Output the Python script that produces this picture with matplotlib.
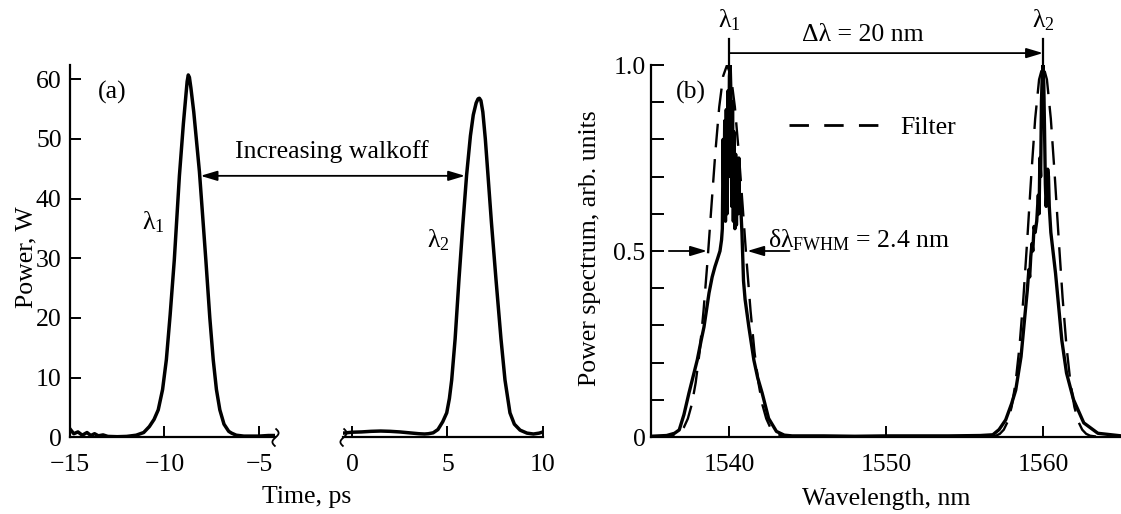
import numpy as np
import matplotlib
matplotlib.use('Agg')
import matplotlib.pyplot as plt
from matplotlib.lines import Line2D
from matplotlib.path import Path
from matplotlib.ticker import MultipleLocator

plt.rcParams['font.family'] = ['Liberation Serif', 'DejaVu Serif']
plt.rcParams['mathtext.fontset'] = 'custom'
plt.rcParams['mathtext.rm'] = 'Liberation Serif'
plt.rcParams['mathtext.it'] = 'Liberation Serif:italic'
plt.rcParams['font.size'] = 18.5

# ---------------- data ----------------
# (a) pulse at lambda1 (time, ps / power, W)
t_pulse1 = [-15.0, -14.8, -14.58, -14.35, -14.1, -13.9, -13.7, -13.5, -13.25, -13.0,
            -12.5, -12.0, -11.5, -11.1, -10.8, -10.55, -10.33, -10.1, -9.9, -9.7,
            -9.48, -9.21, -9.0, -8.86, -8.8, -8.74, -8.68, -8.6, -8.45, -8.3, -8.15,
            -8.0, -7.81, -7.6, -7.42, -7.25, -7.07, -6.85, -6.6, -6.45, -6.2, -5.8,
            -5.0, -4.5, -4.15]
p_pulse1 = [1.4, 0.6, 0.9, 0.35, 0.8, 0.3, 0.6, 0.25, 0.4, 0.15,
            0.1, 0.15, 0.35, 0.8, 1.8, 3.0, 4.6, 8.0, 13.0, 20.5,
            29.7, 43.8, 52.5, 57.5, 59.6, 60.7, 60.3, 58.5, 54.5, 49.5, 44.5,
            38.0, 29.7, 20.0, 13.0, 8.0, 4.6, 2.2, 1.0, 0.7, 0.35, 0.2,
            0.2, 0.3, 0.3]
# (a) pulse at lambda2
t_pulse2 = [-0.47, 0.0, 0.5, 1.0, 1.5, 2.0, 2.5, 3.0, 3.5, 3.8, 4.0, 4.25, 4.5, 4.75,
            4.96, 5.1, 5.22, 5.4, 5.6, 5.8, 6.0, 6.2, 6.35, 6.5, 6.6, 6.67, 6.75, 6.85,
            6.98, 7.12, 7.3, 7.54, 7.8, 8.01, 8.27, 8.5, 8.8, 9.16, 9.5, 9.8, 10.0]
p_pulse2 = [0.7, 0.85, 0.9, 1.0, 1.05, 1.0, 0.9, 0.75, 0.6, 0.55, 0.6, 0.75, 1.3, 2.6,
            4.1, 6.5, 9.6, 16.5, 26.4, 35.5, 43.9, 50.5, 54.0, 56.0, 56.7, 56.8, 56.4, 54.5,
            50.0, 43.9, 36.0, 26.4, 16.5, 9.6, 4.1, 2.2, 1.2, 0.7, 0.55, 0.7, 0.9]

# (b) power spectrum (wavelength, nm / arb. units)
wl_signal = [1535.0, 1536.0, 1536.5, 1536.8, 1537.1, 1537.42, 1537.7, 1537.95, 1538.2,
             1538.38, 1538.7, 1538.9, 1539.08, 1539.25, 1539.4, 1539.5, 1539.55, 1539.6,
             1539.65, 1539.7, 1539.75, 1539.8, 1539.85, 1539.9, 1539.95, 1540.0, 1540.05,
             1540.1, 1540.15, 1540.2, 1540.25, 1540.3, 1540.35, 1540.4, 1540.45, 1540.5,
             1540.55, 1540.6, 1540.65, 1540.7, 1540.8, 1540.9, 1541.0, 1541.24, 1541.56,
             1541.8, 1542.09, 1542.5, 1543.0, 1543.5, 1544.0, 1546.0, 1548.0, 1550.0,
             1552.0, 1554.0, 1556.0, 1556.8, 1557.2, 1557.62, 1558.0, 1558.26, 1558.6,
             1558.8, 1559.0, 1559.1, 1559.15, 1559.22, 1559.3, 1559.35, 1559.43, 1559.5,
             1559.6, 1559.7, 1559.75, 1559.8, 1559.85, 1559.9, 1559.95, 1560.0, 1560.05,
             1560.1, 1560.15, 1560.2, 1560.25, 1560.3, 1560.35, 1560.4, 1560.5, 1560.8,
             1561.0, 1561.2, 1561.5, 1561.95, 1562.6, 1563.5, 1565.0]
s_signal = [0.002, 0.004, 0.01, 0.019, 0.06, 0.118, 0.165, 0.207, 0.26,
            0.296, 0.387, 0.43, 0.458, 0.48, 0.50, 0.53, 0.56, 0.80,
            0.62, 0.85, 0.58, 0.88, 0.60, 0.93, 0.70, 0.97, 1.00,
            0.92, 0.62, 0.90, 0.58, 0.82, 0.56, 0.76, 0.57, 0.72,
            0.60, 0.75, 0.62, 0.64, 0.55, 0.42, 0.37, 0.296, 0.207,
            0.16, 0.118, 0.05, 0.015, 0.005, 0.003, 0.003, 0.002, 0.003,
            0.003, 0.003, 0.004, 0.006, 0.02, 0.046, 0.09, 0.126, 0.216,
            0.306, 0.395, 0.45, 0.43, 0.485, 0.52, 0.50, 0.566, 0.55,
            0.58, 0.65, 0.60, 0.75, 0.70, 0.90, 0.97, 1.00, 0.95,
            0.82, 0.68, 0.62, 0.66, 0.72, 0.70, 0.62, 0.55, 0.44,
            0.35, 0.26, 0.172, 0.10, 0.038, 0.01, 0.003]
# (b) filter transmission
wl_filter = [1535.0, 1536.35, 1536.85, 1537.1, 1537.35, 1537.6, 1537.85, 1538.1, 1538.35,
             1538.6, 1538.85, 1539.1, 1539.35, 1539.6, 1539.85, 1540.1, 1540.35, 1540.6,
             1540.85, 1541.1, 1541.35, 1541.6, 1541.85, 1542.1, 1542.35, 1542.6, 1542.85,
             1543.35, 1545.0, 1555.0, 1556.5, 1557.0, 1557.25, 1557.5, 1557.75, 1558.0,
             1558.25, 1558.5, 1558.75, 1559.0, 1559.25, 1559.5, 1559.75, 1560.0, 1560.25,
             1560.5, 1560.75, 1561.0, 1561.25, 1561.5, 1561.75, 1562.0, 1562.25, 1562.5,
             1562.75, 1563.0, 1563.5, 1565.0]
s_filter = [0.0, 0.0027, 0.0131, 0.0262, 0.0494, 0.0874, 0.146, 0.229, 0.339,
            0.471, 0.618, 0.763, 0.887, 0.970, 1.0, 0.970, 0.887, 0.763,
            0.618, 0.471, 0.339, 0.229, 0.146, 0.0874, 0.0494, 0.0262, 0.0131,
            0.0027, 0.0, 0.0, 0.0005, 0.0035, 0.0086, 0.0197, 0.0415, 0.081,
            0.146, 0.243, 0.374, 0.533, 0.702, 0.855, 0.961, 1.0, 0.961,
            0.855, 0.702, 0.533, 0.374, 0.243, 0.146, 0.081, 0.0415, 0.0197,
            0.0086, 0.0035, 0.0005, 0.0]

a_left_xticks = [-15, -10, -5]
a_right_xticks = [0, 5, 10]
a_yticks = [0, 10, 20, 30, 40, 50, 60]
b_xticks = [1540, 1550, 1560]
b_yticks = [0, 0.5, 1.0]
b_yticklabels = ['0', '0.5', '1.0']
lambda1_nm = 1540
lambda2_nm = 1560
fwhm_left, fwhm_right = 1538.57, 1541.14

# ---------------- figure ----------------
W, H = 1121, 514
fig = plt.figure(figsize=(W / 100, H / 100), dpi=100)


def px_axes(x0, x1, ytop, ybot):
    return [x0 / W, 1 - ybot / H, (x1 - x0) / W, (ybot - ytop) / H]


axL = fig.add_axes(px_axes(70, 275, 65.4, 437.3))
axR = fig.add_axes(px_axes(343, 543, 65.4, 437.3))
axB = fig.add_axes(px_axes(651, 1121.4, 65, 437))

for ax in (axL, axR, axB):
    for s in ('top', 'right'):
        ax.spines[s].set_visible(False)
    for s in ('left', 'bottom'):
        ax.spines[s].set_linewidth(1.6)
    ax.tick_params(direction='in', length=8, width=1.4, labelsize=18.5)
    ax.tick_params(axis='x', pad=12)
    ax.patch.set_alpha(0)

axR.spines['left'].set_visible(False)
axR.tick_params(axis='y', left=False, labelleft=False)

# (a)
axL.plot(t_pulse1, p_pulse1, color='k', lw=2.5, solid_joinstyle='round')
axR.plot(t_pulse2, p_pulse2, color='k', lw=2.5, solid_joinstyle='round')
axL.set_xlim(-15, -4.15)
axR.set_xlim(-0.47, 10)
for ax in (axL, axR):
    ax.set_ylim(0, 62.3)
axL.set_xticks(a_left_xticks)
axR.set_xticks(a_right_xticks)
axL.set_yticks(a_yticks)
axL.tick_params(axis='y', pad=6)

# axis-break squiggles
ys = np.linspace(-1, 1, 13)
squig = Path(np.column_stack([0.35 * np.sin(np.pi * ys), ys]))
for ax, xpos in ((axL, 1.0), (axR, 0.0)):
    ax.plot([xpos], [0], transform=ax.transAxes, marker=squig, markersize=13,
            mfc='none', mec='k', mew=1.3, ls='none', clip_on=False)

axL.text(-12.78, 57.7, '(a)', ha='center', va='center')
axL.text(-10.6, 36.1, r'λ$_1$', ha='center', va='center')
axR.text(4.5, 33.0, r'λ$_2$', ha='center', va='center')
fig.text(332 / W, 1 - 152 / H, 'Increasing walkoff', ha='center', va='center')
axL.annotate('', xy=(-8.09, 43.8), xycoords=axL.transData,
             xytext=(5.92, 43.8), textcoords=axR.transData,
             arrowprops=dict(arrowstyle='<|-|>,head_length=0.5,head_width=0.15',
                             lw=1.3, color='k', shrinkA=0, shrinkB=0,
                             mutation_scale=20),
             annotation_clip=False)
fig.text(26 / W, 1 - 257 / H, 'Power, W', rotation=90, ha='center', va='center')
fig.text(307 / W, 1 - 497 / H, 'Time, ps', ha='center', va='center')

# (b)
axB.plot(wl_signal, s_signal, color='k', lw=2.4, solid_joinstyle='round')
axB.plot(wl_filter, s_filter, color='k', lw=1.7, dashes=(10, 5))
axB.set_xlim(1535, 1565)
axB.set_ylim(0, 1.0)
axB.set_xticks(b_xticks)
axB.set_yticks(b_yticks)
axB.set_yticklabels(b_yticklabels)
axB.yaxis.set_minor_locator(MultipleLocator(0.1))
axB.tick_params(axis='y', which='both', direction='in', length=9, width=1.4, pad=4)

for lam in (lambda1_nm, lambda2_nm):
    axB.plot([lam, lam], [1.0, 1.07], color='k', lw=1.6, clip_on=False)
axB.annotate('', xy=(lambda2_nm, 1.032), xytext=(lambda1_nm, 1.032),
             arrowprops=dict(arrowstyle='-|>,head_length=0.5,head_width=0.15',
                             lw=1.3, color='k', shrinkA=0, shrinkB=0,
                             mutation_scale=20),
             annotation_clip=False)
axB.text(lambda1_nm, 1.121, r'λ$_1$', ha='center', va='center', clip_on=False)
axB.text(lambda2_nm, 1.121, r'λ$_2$', ha='center', va='center', clip_on=False)
axB.text(1548.5, 1.081, 'Δλ = 20 nm', ha='center', va='center', clip_on=False)
axB.text(1537.54, 0.925, '(b)', ha='center', va='center')
axB.text(1542.45, 0.53, r'δλ$_{\mathrm{FWHM}}$ = 2.4 nm', ha='left', va='center')
axB.annotate('', xy=(fwhm_left, 0.5), xytext=(1536.14, 0.5),
             arrowprops=dict(arrowstyle='-|>,head_length=0.5,head_width=0.15',
                             lw=1.3, color='k', shrinkA=0, shrinkB=0,
                             mutation_scale=20))
axB.annotate('', xy=(fwhm_right, 0.5), xytext=(1543.83, 0.5),
             arrowprops=dict(arrowstyle='-|>,head_length=0.5,head_width=0.15',
                             lw=1.3, color='k', shrinkA=0, shrinkB=0,
                             mutation_scale=20))
proxy = Line2D([], [], color='k', lw=2.0, dashes=(7, 5.5))
axB.legend([proxy], ['Filter'], loc='center left',
           bbox_to_anchor=((789 - 651) / 470.4, (437 - 128) / 372),
           frameon=False, borderpad=0, borderaxespad=0, handlelength=3.45,
           handletextpad=0.87, fontsize=18.5)
fig.text(590 / W, 1 - 248 / H, 'Power spectrum, arb. units', rotation=90,
         ha='center', va='center')
fig.text(886 / W, 1 - 499 / H, 'Wavelength, nm', ha='center', va='center')

fig.savefig('out.png', dpi=100)
